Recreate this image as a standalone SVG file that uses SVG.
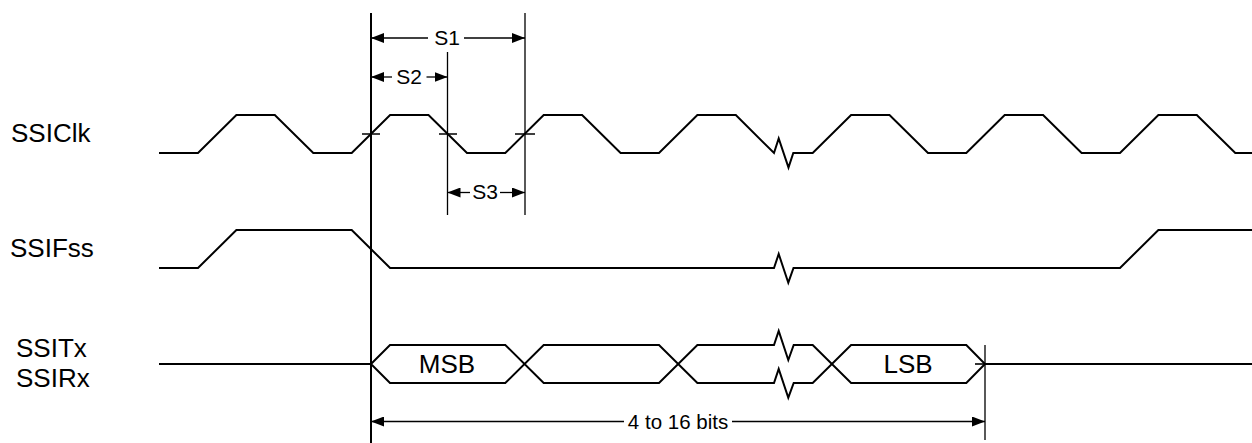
<svg xmlns="http://www.w3.org/2000/svg" width="1252" height="443" viewBox="0 0 1252 443">
<style>
.w{fill:none;stroke:#000;stroke-width:2;stroke-linejoin:miter}
.d{fill:none;stroke:#000;stroke-width:1.3}
.t{fill:none;stroke:#000;stroke-width:1.6}
.lbl{font-family:"Liberation Sans",Arial,sans-serif;font-size:26px;fill:#000}
.sm{font-family:"Liberation Sans",Arial,sans-serif;font-size:21px;fill:#000;text-anchor:middle}
.bits{font-family:"Liberation Sans",Arial,sans-serif;font-size:20.5px;fill:#000;text-anchor:middle}
</style>
<defs>
<marker id="ah" markerUnits="userSpaceOnUse" markerWidth="13" markerHeight="10" refX="13" refY="5" orient="auto-start-reverse">
<path d="M0,0 L13,5 L0,10 z" fill="#000"/>
</marker>
</defs>
<rect width="1252" height="443" fill="#fff"/>
<g id="labels">
<text class="lbl" x="11" y="142">SSIClk</text>
<text class="lbl" x="10" y="257">SSIFss</text>
<text class="lbl" x="16" y="357">SSITx</text>
<text class="lbl" x="16" y="387">SSIRx</text>
</g>
<g id="ssiclk">
<path class="w" d="M159,153 H198 L236.4,115 H274.8 L313.3,153 H351.7 L390.1,115 H428.5 L467,153 H505.3 L543.7,115 H582.1 L620.6,153 H659 L697.4,115 H735.8 L774,153 L778.7,138.5 L788.5,167.5 L793.3,153 H812.7 L851.1,115 H889.5 L928,153 H966.3 L1004.7,115 H1043.1 L1081.6,153 H1120 L1158.4,115 H1196.8 L1235.3,153 H1252"/>
<path class="t" d="M362,134 H380 M439,134 H457 M515,134 H535"/>
</g>
<g id="ssifss">
<path class="w" d="M159,268 H198 L236.4,230 H351.7 L390.1,268 H774 L778.7,254 L788.3,282.7 L793.5,268 H1120 L1158.4,230 H1252"/>
</g>
<g id="ssidata">
<path class="w" d="M159,364 H371 M985,364 H1252"/>
<path class="w" d="M371,364 L390,345 H505.3 L543.7,383 H659 L697.4,345 H774 L778.7,331 L788.3,360 L793.7,345 H812.7 L851.1,383 H966.3 L985,364 L966.3,345 H851.1 L812.7,383 H793.7 L788.3,397.7 L778.7,369 L774,383 H697.4 L659,345 H543.7 L505.3,383 H390 Z"/>
<text class="lbl" x="447" y="373" text-anchor="middle">MSB</text>
<text class="lbl" x="908" y="373" text-anchor="middle">LSB</text>
</g>
<g id="connectors">
<path d="M371,13 V443" stroke="#000" stroke-width="2" fill="none"/>
<path class="d" d="M447.5,52 V215 M525,13 V215 M985,345 V440"/>
<path class="t" d="M975,364 H995"/>
<path class="d" d="M428,38 H371" marker-end="url(#ah)"/>
<path class="d" d="M464,38 H525" marker-end="url(#ah)"/>
<path class="d" d="M392,77 H371" marker-end="url(#ah)"/>
<path class="d" d="M426.5,77 H447.5" marker-end="url(#ah)"/>
<path class="d" d="M470,192.5 H447.5" marker-end="url(#ah)"/>
<path class="d" d="M500,192.5 H525" marker-end="url(#ah)"/>
<path class="d" d="M624,421.5 H371" marker-end="url(#ah)"/>
<path class="d" d="M732,421.5 H985" marker-end="url(#ah)"/>
</g>
<g id="dimension-labels">
<text class="sm" x="447" y="45">S1</text>
<text class="sm" x="409" y="83.5">S2</text>
<text class="sm" x="485" y="199">S3</text>
<text class="bits" x="678" y="428.5">4 to 16 bits</text>
</g>
</svg>
